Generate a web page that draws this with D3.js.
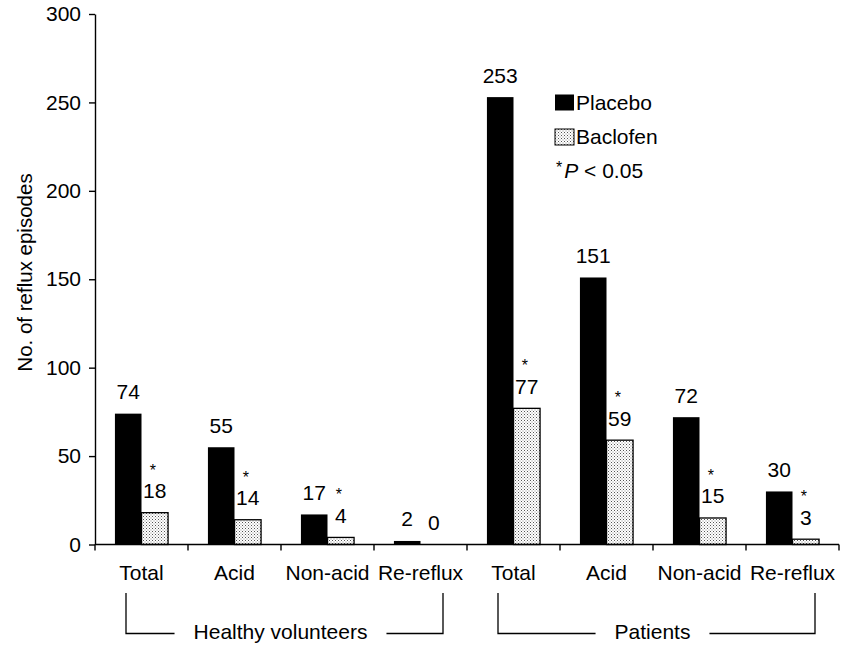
<!DOCTYPE html>
<html>
<head>
<meta charset="utf-8">
<script src="https://cdn.jsdelivr.net/npm/d3@7"></script>
<style>
  html, body { margin: 0; padding: 0; background: #fff; }
  svg text { font-family: "Liberation Sans", Arial, Helvetica, sans-serif; fill: #000; }
</style>
</head>
<body>
<svg id="chart" width="850" height="645"></svg>
<script>
// Reflux episodes: placebo vs baclofen, healthy volunteers and patients
const groups = ["Healthy volunteers", "Patients"];
const categories = ["Total", "Acid", "Non-acid", "Re-reflux"];
const series = ["Placebo", "Baclofen"];
const placebo = [74, 55, 17, 2, 253, 151, 72, 30];
const baclofen = [18, 14, 4, 0, 77, 59, 15, 3];
const significant = [true, true, true, false, true, true, true, true];
const yTicks = [0, 50, 100, 150, 200, 250, 300];
const yTitle = "No. of reflux episodes";

const rows = placebo.map((p, i) => ({
  key: i,
  group: groups[Math.floor(i / categories.length)],
  category: categories[i % categories.length],
  Placebo: p,
  Baclofen: baclofen[i],
  sig: significant[i]
}));

const svg = d3.select("#chart");
const FONT = 21;
const STAR = 16;
const labelGap = 14.5;

const plotLeft = 95, plotRight = 839, plotTop = 14, plotBottom = 544.5;

const y = d3.scaleLinear().domain([0, 300]).range([plotBottom, plotTop]);
const x0 = d3.scaleBand().domain(rows.map(d => d.key)).range([plotLeft, plotRight]).padding(0);
const x1 = d3.scaleBand().domain(series).range([0, x0.bandwidth()])
  .paddingInner(0).paddingOuter(0.75);

// dotted fill for the baclofen bars
const defs = svg.append("defs");
const pat = defs.append("pattern")
  .attr("id", "dots").attr("patternUnits", "userSpaceOnUse")
  .attr("width", 3).attr("height", 3);
pat.append("rect").attr("width", 3).attr("height", 3).attr("fill", "#fff");
pat.append("rect").attr("x", 0).attr("y", 0).attr("width", 1).attr("height", 1).attr("fill", "#555");
pat.append("rect").attr("x", 1.5).attr("y", 1.5).attr("width", 1).attr("height", 1).attr("fill", "#888");

const fills = { Placebo: "#000", Baclofen: "url(#dots)" };

// bars
const g = svg.append("g");
const groupsSel = g.selectAll("g.cat").data(rows).join("g")
  .attr("class", "cat")
  .attr("transform", d => `translate(${x0(d.key)},0)`);

groupsSel.selectAll("rect").data(d => series.map(s => ({ s, v: d[s] })).filter(e => e.v > 0)).join("rect")
  .attr("x", e => x1(e.s))
  .attr("width", x1.bandwidth())
  .attr("y", e => y(e.v))
  .attr("height", e => y(0) - y(e.v))
  .attr("fill", e => fills[e.s])
  .attr("stroke", "#000")
  .attr("stroke-width", e => e.s === "Baclofen" ? 1.3 : 0);

// value labels
groupsSel.selectAll("text.val").data(d => series.map(s => ({ s, v: d[s] }))).join("text")
  .attr("class", "val")
  .attr("x", e => x1(e.s) + x1.bandwidth() / 2)
  .attr("y", e => y(e.v) - labelGap)
  .attr("text-anchor", "middle")
  .attr("font-size", FONT)
  .text(e => e.v);

// significance markers above the baclofen values
groupsSel.filter(d => d.sig).append("text")
  .attr("class", "star")
  .attr("x", d => x1("Baclofen") + x1.bandwidth() / 2 - 2)
  .attr("y", d => y(d.Baclofen) - labelGap - 22.5)
  .attr("text-anchor", "middle")
  .attr("font-size", STAR)
  .text("*");

// y axis
const yAxis = d3.axisLeft(y).tickValues(yTicks).tickSize(6).tickPadding(8).tickSizeOuter(0);
const ya = svg.append("g").attr("transform", `translate(${plotLeft},0)`).call(yAxis);
ya.select(".domain").attr("stroke", "#000").attr("stroke-width", 1.4);
ya.selectAll(".tick line").attr("stroke", "#000").attr("stroke-width", 1.4);
ya.selectAll(".tick text").attr("font-size", FONT).attr("font-family", null).attr("fill", "#000");

// x axis: baseline with ticks at category boundaries
const xa = svg.append("g");
xa.append("line")
  .attr("x1", plotLeft).attr("x2", plotRight).attr("y1", y(0)).attr("y2", y(0))
  .attr("stroke", "#000").attr("stroke-width", 1.4);
const bounds = rows.map(d => x0(d.key)).concat([x0(rows[rows.length - 1].key) + x0.bandwidth()]);
xa.selectAll("line.tk").data(bounds).join("line")
  .attr("class", "tk")
  .attr("x1", d => d).attr("x2", d => d)
  .attr("y1", y(0)).attr("y2", y(0) + 6)
  .attr("stroke", "#000").attr("stroke-width", 1.4);
xa.selectAll("text").data(rows).join("text")
  .attr("x", d => x0(d.key) + x0.bandwidth() / 2)
  .attr("y", y(0) + 35.5)
  .attr("text-anchor", "middle")
  .attr("font-size", FONT)
  .text(d => d.category);

// y axis title
svg.append("text")
  .attr("transform", `translate(31.5,272.5) rotate(-90)`)
  .attr("text-anchor", "middle")
  .attr("font-size", 20.5)
  .text(yTitle);

// group brackets
const bracketTop = 593, bracketBottom = 633.5;
groups.forEach((name, gi) => {
  const first = rows[gi * categories.length];
  const last = rows[gi * categories.length + categories.length - 1];
  const xl = x0(first.key) + 31;
  const xr = x0(last.key) + x0.bandwidth() - 24;
  const cx = (xl + xr) / 2 - 4;
  const t = svg.append("text")
    .attr("x", cx).attr("y", bracketBottom + 5)
    .attr("text-anchor", "middle")
    .attr("font-size", FONT)
    .text(name);
  const w = t.node().getComputedTextLength();
  const gap = 19;
  const path = d3.path();
  path.moveTo(xl, bracketTop); path.lineTo(xl, bracketBottom); path.lineTo(cx - w / 2 - gap, bracketBottom);
  path.moveTo(cx + w / 2 + gap, bracketBottom); path.lineTo(xr, bracketBottom); path.lineTo(xr, bracketTop);
  svg.append("path").attr("d", path.toString())
    .attr("fill", "none").attr("stroke", "#000").attr("stroke-width", 1.3);
});

// legend
const lg = svg.append("g").attr("transform", "translate(555,0)");
const legendRows = [
  { s: "Placebo", yTop: 94.5 },
  { s: "Baclofen", yTop: 129 }
];
legendRows.forEach(r => {
  lg.append("rect")
    .attr("x", 0).attr("y", r.yTop).attr("width", 19).attr("height", 16)
    .attr("fill", fills[r.s]).attr("stroke", "#000").attr("stroke-width", r.s === "Baclofen" ? 1 : 0);
  lg.append("text").attr("x", 21).attr("y", r.yTop + 15).attr("font-size", FONT).text(r.s);
});
const note = lg.append("text").attr("x", 1).attr("y", 178.3).attr("font-size", FONT);
note.append("tspan").attr("font-size", STAR).attr("dy", -5).text("*");
note.append("tspan").attr("dy", 5).attr("dx", 2).attr("font-style", "italic").text("P");
note.append("tspan").text(" < 0.05");
</script>
</body>
</html>
